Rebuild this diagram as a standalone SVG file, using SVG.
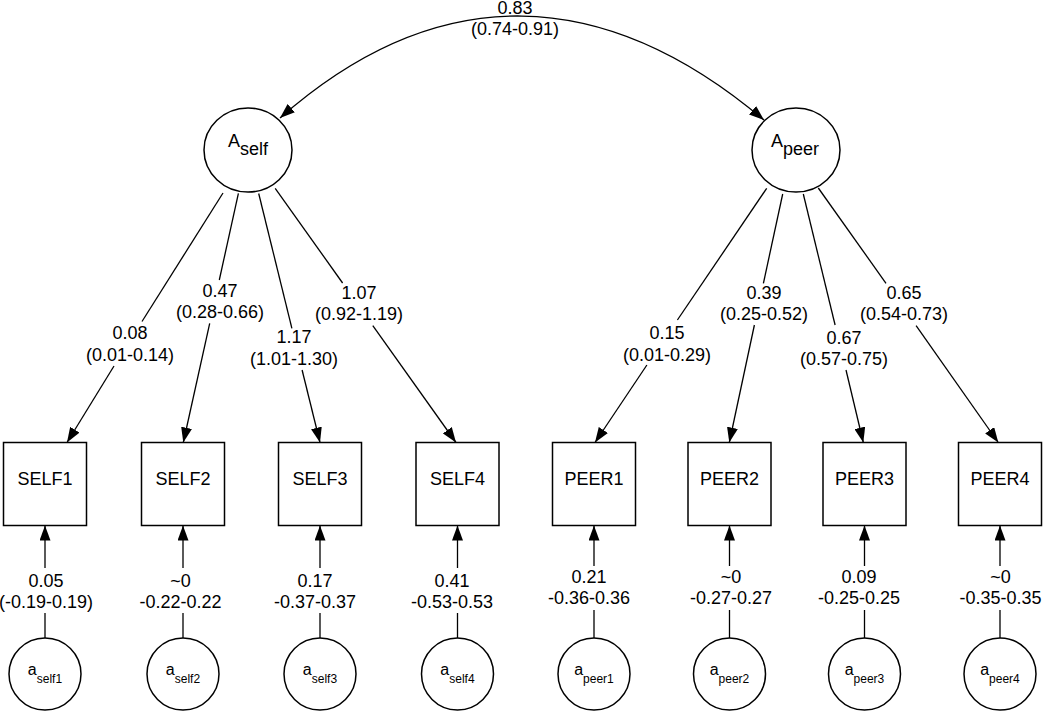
<svg xmlns="http://www.w3.org/2000/svg" width="1050" height="711" viewBox="0 0 1050 711">
  <style>
    .shape { fill: #ffffff; stroke: #000000; stroke-width: 1.5; }
    .edge { fill: none; stroke: #000000; stroke-width: 1.3; }
    .lbl { font-family: "Liberation Sans", Arial, sans-serif; font-size: 18px; fill: #000000; text-anchor: middle; }
    .sm { font-family: "Liberation Sans", Arial, sans-serif; font-size: 16px; fill: #000000; text-anchor: middle; }
  </style>
  <defs>
    <marker id="arrow" markerUnits="userSpaceOnUse" markerWidth="15" markerHeight="11" refX="15" refY="5.5" orient="auto-start-reverse" viewBox="0 0 15 11">
      <path d="M0,0 L15,5.5 L0,11 Z" fill="#000000"/>
    </marker>
  </defs>

  <rect width="1050" height="711" fill="#ffffff"/>

  <g id="connectors">
    <!-- covariance arc -->
    <path class="edge" d="M280,118 C438.7,-21.7 604.3,-14.9 764,120" marker-start="url(#arrow)" marker-end="url(#arrow)"/>
    <!-- Aself loadings -->
    <line class="edge" x1="223" y1="193" x2="142" y2="321.5"/>
    <line class="edge" x1="114" y1="366" x2="67" y2="442.5" marker-end="url(#arrow)"/>
    <line class="edge" x1="238.4" y1="193.3" x2="219.3" y2="280"/>
    <line class="edge" x1="209.7" y1="323.3" x2="183.3" y2="442.5" marker-end="url(#arrow)"/>
    <line class="edge" x1="258.7" y1="193.5" x2="291.9" y2="328.3"/>
    <line class="edge" x1="302.1" y1="370" x2="320" y2="442.5" marker-end="url(#arrow)"/>
    <line class="edge" x1="275.2" y1="188.3" x2="342.6" y2="283"/>
    <line class="edge" x1="372.8" y1="325.7" x2="456" y2="442.5" marker-end="url(#arrow)"/>
    <!-- Apeer loadings -->
    <line class="edge" x1="766.7" y1="188.3" x2="677.4" y2="320"/>
    <line class="edge" x1="646.9" y1="365" x2="595" y2="442.5" marker-end="url(#arrow)"/>
    <line class="edge" x1="782.7" y1="194" x2="763.4" y2="283.3"/>
    <line class="edge" x1="754.4" y1="325" x2="729.3" y2="442.5" marker-end="url(#arrow)"/>
    <line class="edge" x1="803.3" y1="194" x2="835.1" y2="325"/>
    <line class="edge" x1="846" y1="370" x2="863.3" y2="442.5" marker-end="url(#arrow)"/>
    <line class="edge" x1="818.3" y1="188" x2="886" y2="283.3"/>
    <line class="edge" x1="916.1" y1="325.7" x2="998.3" y2="442.5" marker-end="url(#arrow)"/>
    <!-- residual paths self -->
    <line class="edge" x1="45" y1="638" x2="45" y2="613"/>
    <line class="edge" x1="45" y1="568" x2="45" y2="525.5" marker-end="url(#arrow)"/>
    <line class="edge" x1="183" y1="638" x2="183" y2="613"/>
    <line class="edge" x1="183" y1="568" x2="183" y2="525.5" marker-end="url(#arrow)"/>
    <line class="edge" x1="320" y1="638" x2="320" y2="613"/>
    <line class="edge" x1="320" y1="568" x2="320" y2="525.5" marker-end="url(#arrow)"/>
    <line class="edge" x1="457.5" y1="638" x2="457.5" y2="613"/>
    <line class="edge" x1="457.5" y1="568" x2="457.5" y2="525.5" marker-end="url(#arrow)"/>
    <!-- residual paths peer -->
    <line class="edge" x1="594" y1="638" x2="594" y2="610"/>
    <line class="edge" x1="594" y1="566" x2="594" y2="525.5" marker-end="url(#arrow)"/>
    <line class="edge" x1="729.5" y1="638" x2="729.5" y2="610"/>
    <line class="edge" x1="729.5" y1="566" x2="729.5" y2="525.5" marker-end="url(#arrow)"/>
    <line class="edge" x1="864.5" y1="638" x2="864.5" y2="610"/>
    <line class="edge" x1="864.5" y1="566" x2="864.5" y2="525.5" marker-end="url(#arrow)"/>
    <line class="edge" x1="1000" y1="638" x2="1000" y2="610"/>
    <line class="edge" x1="1000" y1="566" x2="1000" y2="525.5" marker-end="url(#arrow)"/>

    <!-- labels -->
    <g id="edge-labels">
      <text class="lbl" x="515" y="14">0.83</text>
      <text class="lbl" x="515" y="35">(0.74-0.91)</text>

      <text class="lbl" x="130" y="339">0.08</text>
      <text class="lbl" x="130" y="361">(0.01-0.14)</text>
      <text class="lbl" x="220" y="297">0.47</text>
      <text class="lbl" x="220" y="318">(0.28-0.66)</text>
      <text class="lbl" x="294" y="343">1.17</text>
      <text class="lbl" x="294" y="365">(1.01-1.30)</text>
      <text class="lbl" x="359" y="299">1.07</text>
      <text class="lbl" x="359" y="320">(0.92-1.19)</text>

      <text class="lbl" x="667" y="339">0.15</text>
      <text class="lbl" x="667" y="361">(0.01-0.29)</text>
      <text class="lbl" x="764" y="299">0.39</text>
      <text class="lbl" x="764" y="320">(0.25-0.52)</text>
      <text class="lbl" x="844" y="344">0.67</text>
      <text class="lbl" x="844" y="365">(0.57-0.75)</text>
      <text class="lbl" x="904" y="299">0.65</text>
      <text class="lbl" x="904" y="320">(0.54-0.73)</text>

      <text class="lbl" x="46" y="587">0.05</text>
      <text class="lbl" x="46" y="608">(-0.19-0.19)</text>
      <text class="lbl" x="180.5" y="587">~0</text>
      <text class="lbl" x="180.5" y="608">-0.22-0.22</text>
      <text class="lbl" x="315" y="587">0.17</text>
      <text class="lbl" x="315" y="608">-0.37-0.37</text>
      <text class="lbl" x="452" y="587">0.41</text>
      <text class="lbl" x="452" y="608">-0.53-0.53</text>

      <text class="lbl" x="589" y="583">0.21</text>
      <text class="lbl" x="589" y="604">-0.36-0.36</text>
      <text class="lbl" x="731" y="583">~0</text>
      <text class="lbl" x="731" y="604">-0.27-0.27</text>
      <text class="lbl" x="859" y="583">0.09</text>
      <text class="lbl" x="859" y="604">-0.25-0.25</text>
      <text class="lbl" x="1000.5" y="583">~0</text>
      <text class="lbl" x="1000.5" y="604">-0.35-0.35</text>
    </g>
  </g>

  <!-- latent factors -->
  <g id="A_self">
    <ellipse class="shape" cx="248" cy="150" rx="44" ry="42"/>
    <text class="lbl" x="248" y="147">A<tspan dy="8">self</tspan></text>
  </g>
  <g id="A_peer">
    <ellipse class="shape" cx="796" cy="150" rx="44" ry="42"/>
    <text class="lbl" x="795" y="147">A<tspan dy="8">peer</tspan></text>
  </g>

  <!-- observed indicators -->
  <g id="SELF1"><rect class="shape" x="3.5" y="442.5" width="83" height="83"/><text class="lbl" x="45" y="485">SELF1</text></g>
  <g id="SELF2"><rect class="shape" x="141.5" y="442.5" width="83" height="83"/><text class="lbl" x="183" y="485">SELF2</text></g>
  <g id="SELF3"><rect class="shape" x="278.5" y="442.5" width="83" height="83"/><text class="lbl" x="320" y="485">SELF3</text></g>
  <g id="SELF4"><rect class="shape" x="416" y="442.5" width="83" height="83"/><text class="lbl" x="457.5" y="485">SELF4</text></g>
  <g id="PEER1"><rect class="shape" x="552.5" y="442.5" width="83" height="83"/><text class="lbl" x="594" y="485">PEER1</text></g>
  <g id="PEER2"><rect class="shape" x="688" y="442.5" width="83" height="83"/><text class="lbl" x="729.5" y="485">PEER2</text></g>
  <g id="PEER3"><rect class="shape" x="823" y="442.5" width="83" height="83"/><text class="lbl" x="864.5" y="485">PEER3</text></g>
  <g id="PEER4"><rect class="shape" x="958.5" y="442.5" width="83" height="83"/><text class="lbl" x="1000" y="485">PEER4</text></g>

  <!-- residual factors -->
  <g id="a_self1"><circle class="shape" cx="45" cy="674" r="36"/><text class="sm" x="45" y="675">a<tspan dy="8" font-size="12">self1</tspan></text></g>
  <g id="a_self2"><circle class="shape" cx="183" cy="674" r="36"/><text class="sm" x="183" y="675">a<tspan dy="8" font-size="12">self2</tspan></text></g>
  <g id="a_self3"><circle class="shape" cx="320" cy="674" r="36"/><text class="sm" x="320" y="675">a<tspan dy="8" font-size="12">self3</tspan></text></g>
  <g id="a_self4"><circle class="shape" cx="457.5" cy="674" r="36"/><text class="sm" x="457.5" y="675">a<tspan dy="8" font-size="12">self4</tspan></text></g>
  <g id="a_peer1"><circle class="shape" cx="594" cy="674" r="36"/><text class="sm" x="594" y="675">a<tspan dy="8" font-size="12">peer1</tspan></text></g>
  <g id="a_peer2"><circle class="shape" cx="729.5" cy="674" r="36"/><text class="sm" x="729.5" y="675">a<tspan dy="8" font-size="12">peer2</tspan></text></g>
  <g id="a_peer3"><circle class="shape" cx="864.5" cy="674" r="36"/><text class="sm" x="864.5" y="675">a<tspan dy="8" font-size="12">peer3</tspan></text></g>
  <g id="a_peer4"><circle class="shape" cx="1000" cy="674" r="36"/><text class="sm" x="1000" y="675">a<tspan dy="8" font-size="12">peer4</tspan></text></g>
</svg>
